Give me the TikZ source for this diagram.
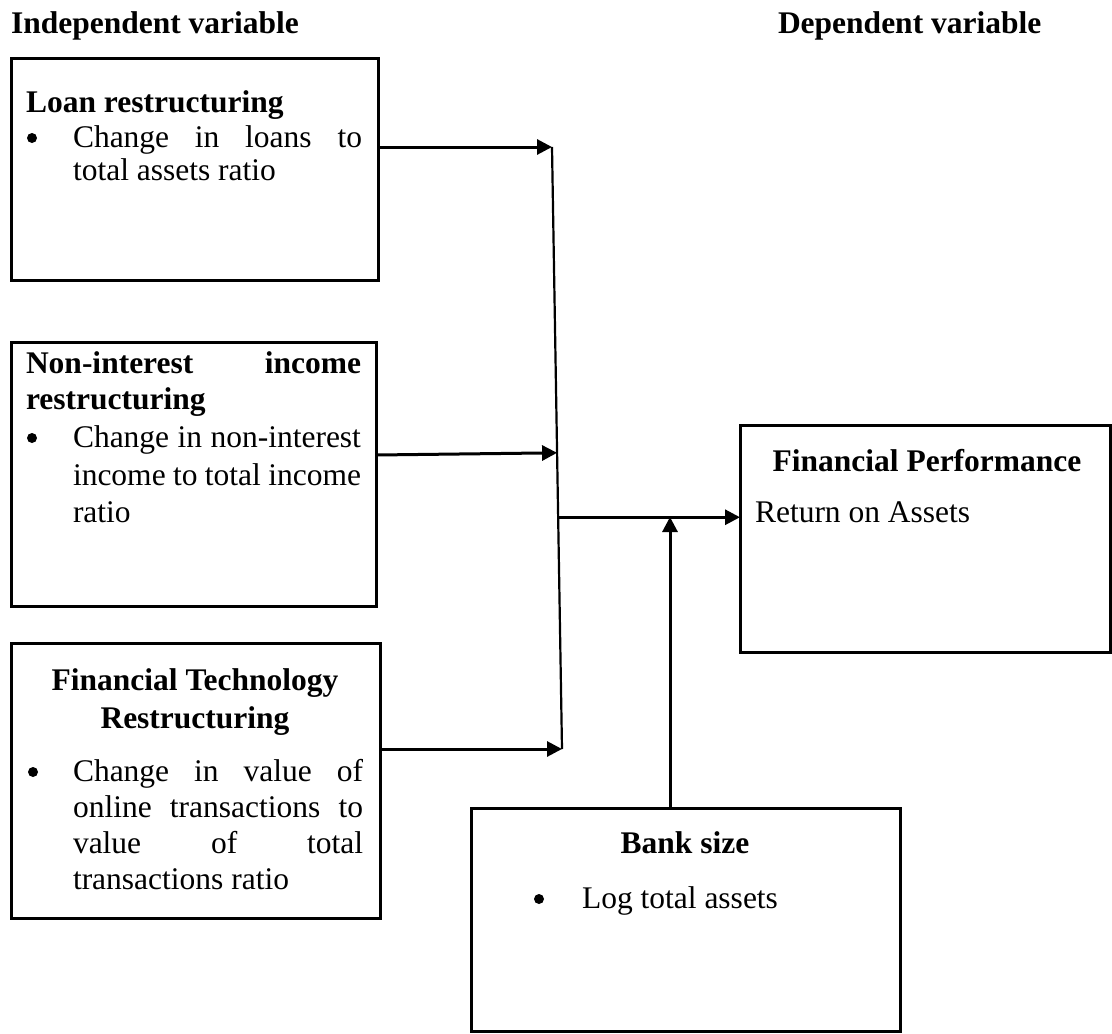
\documentclass[tikz,border=0pt]{standalone}
\usepackage{fontspec}
\setmainfont{Liberation Serif}
\usetikzlibrary{arrows.meta,calc}
\begin{document}
\begin{tikzpicture}[x=1pt,y=-1pt,
  box/.style={draw=black,line width=3pt,rectangle,inner sep=0pt,outer sep=0pt,anchor=north west},
  txt/.style={inner sep=0pt,outer sep=0pt,font=\fontsize{31.5}{37}\selectfont},
  head/.style={inner sep=0pt,outer sep=0pt,font=\fontsize{31.5}{37}\selectfont\bfseries},
  dot/.style={circle,fill=black,inner sep=0pt,minimum size=10pt},
  conn/.style={line width=3pt,-{Triangle[length=15pt,width=15pt]}},
  bus/.style={line width=2.2pt},
]
\useasboundingbox (0,0) rectangle (1112,1034);

% headings
\node[head,anchor=base west] (h1) at (11,33) {Independent variable};
\node[head,anchor=base west] (h2) at (778,33) {Dependent variable};

% boxes
\node[box,minimum width=367pt,minimum height=222pt] (b1) at (11,58) {};
\node[box,minimum width=365pt,minimum height=264pt] (b2) at (11,342) {};
\node[box,minimum width=369pt,minimum height=275pt] (b3) at (11,643) {};
\node[box,minimum width=370pt,minimum height=227pt] (b4) at (740,425) {};
\node[box,minimum width=429pt,minimum height=223pt] (b5) at (471,808) {};

% box 1 text
\node[head,anchor=base west] (t11) at (26,112) {Loan restructuring};
\node[dot] (d11) at (32,138) {};
\node[txt,anchor=base west] (t12) at (73,147) {\makebox[289pt][s]{Change in loans to}};
\node[txt,anchor=base west] (t13) at (73,180) {total assets ratio};

% box 2 text
\node[head,anchor=base west] (t21) at (26,373) {\makebox[335pt][s]{Non-interest income}};
\node[head,anchor=base west] (t22) at (26,409) {restructuring};
\node[dot] (d21) at (32,438) {};
\node[txt,anchor=base west] (t23) at (73,447) {\makebox[288pt][s]{Change in non-interest}};
\node[txt,anchor=base west] (t24) at (73,485) {\makebox[288pt][s]{income to total income}};
\node[txt,anchor=base west] (t25) at (73,522) {ratio};

% box 3 text
\node[head,anchor=base] (t31) at (195,690) {Financial Technology};
\node[head,anchor=base] (t32) at (195,728) {Restructuring};
\node[dot] (d31) at (33,772) {};
\node[txt,anchor=base west] (t33) at (73,781) {\makebox[290pt][s]{Change in value of}};
\node[txt,anchor=base west] (t34) at (73,817) {\makebox[290pt][s]{online transactions to}};
\node[txt,anchor=base west] (t35) at (73,853) {\makebox[290pt][s]{value of total}};
\node[txt,anchor=base west] (t36) at (73,889) {transactions ratio};

% box 4 text
\node[head,anchor=base] (t41) at (927,471) {Financial Performance};
\node[txt,anchor=base west] (t42) at (755,522) {Return on Assets};

% box 5 text
\node[head,anchor=base] (t51) at (685,853) {Bank size};
\node[dot] (d51) at (539,899) {};
\node[txt,anchor=base west] (t52) at (582,908) {Log total assets};

% connectors
\coordinate (j1) at (552,147);
\coordinate (j3) at (562,749);
\coordinate (j2) at ($(j1)!0.508!(j3)$);
\coordinate (jm) at ($(j1)!0.615!(j3)$);
\coordinate (u) at (670,517);

\draw[bus] (j1) -- (j3);
\draw[conn] (b1.east |- j1) -- (j1);
\draw[conn] ($(b2.east)+(0,-19)$) -- (j2);
\draw[conn] (b3.east |- j3) -- (j3);
\draw[conn] (jm) -- (b4.west |- jm);
\draw[conn] (b5.north -| u) -- (u);
\end{tikzpicture}
\end{document}
